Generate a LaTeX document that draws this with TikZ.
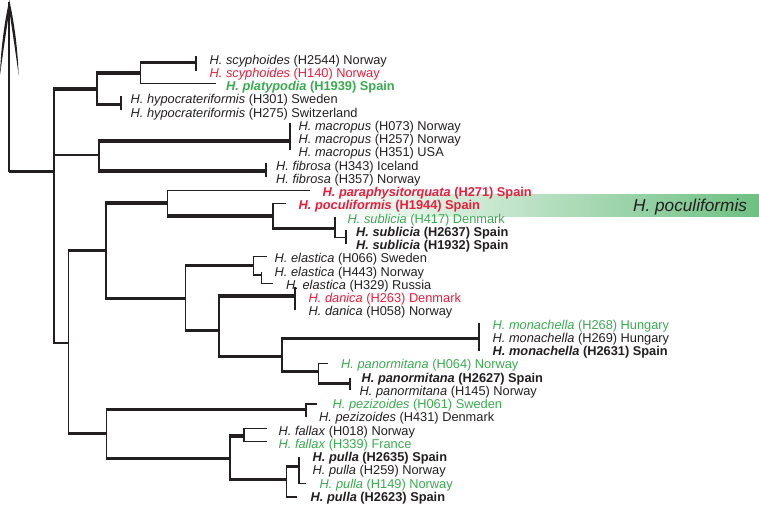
\documentclass[tikz,border=0pt]{standalone}
\usepackage{fontspec}
\setmainfont{Liberation Sans}
\definecolor{tred}{RGB}{237,28,58}
\definecolor{tgreen}{RGB}{57,170,80}
\definecolor{bandgreen}{RGB}{110,192,130}
\definecolor{ink}{RGB}{35,31,32}
\begin{document}
\begin{tikzpicture}[x=1pt,y=-1pt,
  thk/.style={line width=3.4pt,draw=ink,shorten <=-0.75pt},
  thn/.style={line width=1.4pt,draw=ink,shorten <=-0.75pt},
  vrt/.style={line width=1.5pt,draw=ink,line cap=square},
  tbar/.style={line width=2pt,draw=ink},
  lab/.style={anchor=base west,inner sep=0pt,text=ink,font=\fontsize{12.8}{14}\selectfont},
  rlab/.style={lab,text=tred},
  glab/.style={lab,text=tgreen}]
\useasboundingbox (0,0) rectangle (759,506);
% highlight band
\shade[left color=white,right color=bandgreen] (325,194.3) rectangle (759,216);
\node[anchor=base west,inner sep=0pt,text=ink,font=\fontsize{17.2}{19}\selectfont\itshape] (big) at (633,211.7) {H. poculiformis};
% coordinates
\coordinate (root) at (9.3,171.5);
\coordinate (atip) at (9.3,2);
\coordinate (n1) at (54,171.5);
\coordinate (A) at (97,89);
\coordinate (A1) at (140.7,73);
\coordinate (scy) at (196,62.3);
\coordinate (plt) at (216,83.3);
\coordinate (hyp) at (120.7,104.3);
\coordinate (B) at (99,155);
\coordinate (mac) at (290,141);
\coordinate (fib) at (266,171);
\coordinate (C) at (68.3,343);
\coordinate (D) at (106,250.7);
\coordinate (F) at (167.5,203);
\coordinate (par) at (310,190.7);
\coordinate (H) at (273,216);
\coordinate (poc) at (286,203.3);
\coordinate (I) at (335,228.3);
\coordinate (s417) at (335,217);
\coordinate (J) at (346,237.3);
\coordinate (G) at (185.7,298.3);
\coordinate (K) at (253.3,265.7);
\coordinate (e066) at (266.7,256.7);
\coordinate (K2) at (261.7,275);
\coordinate (e443) at (261.7,271.7);
\coordinate (e329) at (273.3,283.3);
\coordinate (L) at (219,330.7);
\coordinate (dan) at (295,296);
\coordinate (M) at (282,356.7);
\coordinate (mon) at (479.3,338.3);
\coordinate (N) at (318.3,371.7);
\coordinate (p064) at (328.3,363.3);
\coordinate (pan) at (350,383.3);
\coordinate (E) at (106.7,433.3);
\coordinate (P) at (306,409.5);
\coordinate (z061) at (317.3,404);
\coordinate (z431) at (306,417.3);
\coordinate (Q) at (230,458.3);
\coordinate (Q1) at (244,436);
\coordinate (f018) at (267.3,428.3);
\coordinate (f339) at (267.3,441.7);
\coordinate (Q2) at (286.7,479.3);
\coordinate (Q3) at (299,466.7);
\coordinate (u2635) at (299,456.7);
\coordinate (u259) at (299,470);
\coordinate (u149) at (306,483.3);
\coordinate (u2623) at (296.7,496.7);
% root arrow
\draw[line width=2.2pt,draw=ink] (root) -- (atip);
\fill[ink] (9.3,0) .. controls (5,20) and (1,45) .. (0,75)
  .. controls (4,45) and (8,20) .. (9.3,10)
  .. controls (10.6,20) and (14.6,45) .. (18.6,75)
  .. controls (17.6,45) and (13.6,20) .. (9.3,0) -- cycle;
\draw[thk] (root) -- (n1);
% verticals
\draw[vrt] (n1 |- A) -- (n1 |- C);
\draw[vrt] (A |- A1) -- (A |- hyp);
\draw[vrt] (A1 |- scy) -- (A1 |- plt);
\draw[vrt] (B |- mac) -- (B |- fib);
\draw[vrt] (C |- D) -- (C |- E);
\draw[vrt] (D |- F) -- (D |- G);
\draw[vrt] (F |- par) -- (F |- H);
\draw[vrt] (H |- poc) -- (H |- I);
\draw[vrt] (I |- s417) -- (I |- J);
\draw[vrt] (G |- K) -- (G |- L);
\draw[vrt] (K |- e066) -- (K |- K2);
\draw[vrt] (K2 |- e443) -- (K2 |- e329);
\draw[vrt] (L |- dan) -- (L |- M);
\draw[vrt] (M |- mon) -- (M |- N);
\draw[vrt] (N |- p064) -- (N |- pan);
\draw[vrt] (E |- P) -- (E |- Q);
\draw[vrt] (P |- z061) -- (P |- z431);
\draw[vrt] (Q |- Q1) -- (Q |- Q2);
\draw[vrt] (Q1 |- f018) -- (Q1 |- f339);
\draw[vrt] (Q2 |- Q3) -- (Q2 |- u2623);
\draw[vrt] (Q3 |- u2635) -- (Q3 |- u149);
% horizontals
\draw[thk] (n1 |- A) -- (A);
\draw[thk] (A |- A1) -- (A1);
\draw[thk] (A1 |- scy) -- (scy);
\draw[thn] (A1 |- plt) -- (plt);
\draw[thk] (A |- hyp) -- (hyp);
\draw[thn] (n1 |- B) -- (B);
\draw[thk] (B |- mac) -- (mac);
\draw[thk] (B |- fib) -- (fib);
\draw[thn] (n1 |- C) -- (C);
\draw[thk] (C |- D) -- (D);
\draw[thk] (D |- F) -- (F);
\draw[thn] (F |- par) -- (par);
\draw[thk] (F |- H) -- (H);
\draw[thn] (H |- poc) -- (poc);
\draw[thk] (H |- I) -- (I);
\draw[thn] (I |- J) -- (J);
\draw[thk] (D |- G) -- (G);
\draw[thk] (G |- K) -- (K);
\draw[thn] (K |- e066) -- (e066);
\draw[thn] (K |- K2) -- (K2);
\draw[thn] (K2 |- e329) -- (e329);
\draw[thk] (G |- L) -- (L);
\draw[thk] (L |- dan) -- (dan);
\draw[thk] (L |- M) -- (M);
\draw[thk] (M |- mon) -- (mon);
\draw[thk] (M |- N) -- (N);
\draw[thn] (N |- p064) -- (p064);
\draw[thk] (N |- pan) -- (pan);
\draw[thk] (C |- E) -- (E);
\draw[thk] (E |- P) -- (P);
\draw[thn] (P |- z061) -- (z061);
\draw[thk] (E |- Q) -- (Q);
\draw[thk] (Q |- Q1) -- (Q1);
\draw[thn] (Q1 |- f018) -- (f018);
\draw[thn] (Q1 |- f339) -- (f339);
\draw[thk] (Q |- Q2) -- (Q2);
\draw[thk] (Q2 |- Q3) -- (Q3);
\draw[thn] (Q3 |- u149) -- (u149);
\draw[thn,line width=1.8pt] (Q2 |- u2623) -- (u2623);
% tip bars
\draw[tbar] (scy) ++(0,-6.3) -- ++(0,15);
\draw[tbar] (hyp) ++(0,-8.3) -- ++(0,14);
\draw[tbar] (mac) ++(0,-18) -- ++(0,27);
\draw[tbar] (fib) ++(0,-8) -- ++(0,14);
\draw[tbar] (J) ++(0,-7.3) -- ++(0,14);
\draw[tbar] (dan) ++(0,-9) -- ++(0,23);
\draw[tbar] (mon) ++(0,-15) -- ++(0,27.4);
\draw[tbar] (pan) ++(0,-5.3) -- ++(0,12);
% labels
\node[lab]  (t0)  at (209.5,64.1)  {\textit{H. scyphoides} (H2544) Norway};
\node[rlab] (t1)  at (209.5,77.35) {\textit{H. scyphoides} (H140) Norway};
\node[glab] (t2)  at (226,90.6)    {\textbf{\textit{H. platypodia} (H1939) Spain}};
\node[lab]  (t3)  at (130.5,103.85){\textit{H. hypocrateriformis} (H301) Sweden};
\node[lab]  (t4)  at (130.5,117.1) {\textit{H. hypocrateriformis} (H275) Switzerland};
\node[lab]  (t5)  at (298.5,130.35){\textit{H. macropus} (H073) Norway};
\node[lab]  (t6)  at (298.5,143.6) {\textit{H. macropus} (H257) Norway};
\node[lab]  (t7)  at (298.5,156.85){\textit{H. macropus} (H351) USA};
\node[lab]  (t8)  at (276,170.1)   {\textit{H. fibrosa} (H343) Iceland};
\node[lab]  (t9)  at (276,183.35)  {\textit{H. fibrosa} (H357) Norway};
\node[rlab] (t10) at (322.5,196.6) {\textbf{\textit{H. paraphysitorquata} (H271) Spain}};
\node[rlab] (t11) at (298.5,209.85){\textbf{\textit{H. poculiformis} (H1944) Spain}};
\node[glab] (t12) at (347.5,223.1) {\textit{H. sublicia} (H417) Denmark};
\node[lab]  (t13) at (356,236.35)  {\textbf{\textit{H. sublicia} (H2637) Spain}};
\node[lab]  (t14) at (356,249.6)   {\textbf{\textit{H. sublicia} (H1932) Spain}};
\node[lab]  (t15) at (274.5,262.85){\textit{H. elastica} (H066) Sweden};
\node[lab]  (t16) at (274.5,276.1) {\textit{H. elastica} (H443) Norway};
\node[lab]  (t17) at (286,289.35)  {\textit{H. elastica} (H329) Russia};
\node[rlab] (t18) at (308.5,302.6) {\textit{H. danica} (H263) Denmark};
\node[lab]  (t19) at (308.5,315.85){\textit{H. danica} (H058) Norway};
\node[glab] (t20) at (492.5,329.1) {\textit{H. monachella} (H268) Hungary};
\node[lab]  (t21) at (492.5,342.35){\textit{H. monachella} (H269) Hungary};
\node[lab]  (t22) at (492.5,355.6) {\textbf{\textit{H. monachella} (H2631) Spain}};
\node[glab] (t23) at (341,368.85)  {\textit{H. panormitana} (H064) Norway};
\node[lab]  (t24) at (361.5,382.1) {\textbf{\textit{H. panormitana} (H2627) Spain}};
\node[lab]  (t25) at (359.5,395.35){\textit{H. panormitana} (H145) Norway};
\node[glab] (t26) at (332.5,408.6) {\textit{H. pezizoides} (H061) Sweden};
\node[lab]  (t27) at (319,421.85)  {\textit{H. pezizoides} (H431) Denmark};
\node[lab]  (t28) at (278.5,435.1) {\textit{H. fallax} (H018) Norway};
\node[glab] (t29) at (278.5,448.35){\textit{H. fallax} (H339) France};
\node[lab]  (t30) at (312.5,461.6) {\textbf{\textit{H. pulla} (H2635) Spain}};
\node[lab]  (t31) at (312.5,474.85){\textit{H. pulla} (H259) Norway};
\node[glab] (t32) at (319.5,488.1) {\textit{H. pulla} (H149) Norway};
\node[lab]  (t33) at (310.5,501.35){\textbf{\textit{H. pulla} (H2623) Spain}};
\end{tikzpicture}
\end{document}
